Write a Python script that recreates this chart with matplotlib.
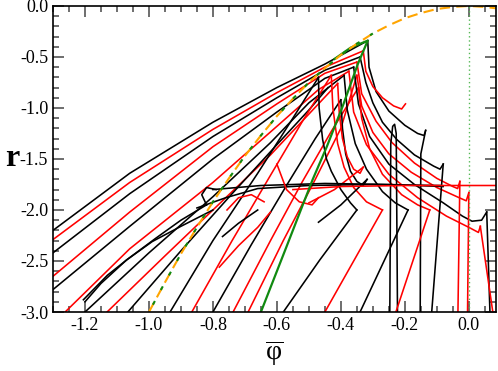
import matplotlib
matplotlib.use("Agg")
import matplotlib.pyplot as plt
from matplotlib.ticker import MultipleLocator

# ---------------------------------------------------------------- data
# envelope (orange dashed)
env_phi = [-1.00, -0.95, -0.90, -0.85, -0.80, -0.75, -0.70, -0.65, -0.60, -0.55, -0.50,
           -0.45, -0.40, -0.35, -0.30, -0.25, -0.20, -0.15, -0.10, -0.05, 0.00, 0.05, 0.09]
env_r = [-3.00, -2.71, -2.43, -2.17, -1.92, -1.69, -1.47, -1.27, -1.08, -0.91, -0.75,
         -0.61, -0.48, -0.37, -0.27, -0.19, -0.12, -0.07, -0.03, -0.01, 0.00, -0.01, -0.025]

# green solid branch
green_phi = [-0.42, -0.37, -0.316, -0.347, -0.394, -0.444, -0.488, -0.57, -0.65]
green_r = [-0.52, -0.41, -0.34, -0.57, -0.98, -1.38, -1.70, -2.36, -3.00]

# shallow fan from the left edge up to the apex
fan_black = [
    [(-1.30, -2.20), (-1.06, -1.64), (-0.80, -1.14), (-0.60, -0.80), (-0.45, -0.57), (-0.316, -0.34)],
    [(-1.30, -2.42), (-1.06, -1.84), (-0.80, -1.28), (-0.60, -0.90), (-0.45, -0.63), (-0.34, -0.50)],
    [(-1.30, -2.78), (-1.06, -2.16), (-0.80, -1.50), (-0.60, -1.04), (-0.45, -0.71), (-0.36, -0.60)],
    [(-1.20, -3.00), (-1.00, -2.42), (-0.80, -1.87), (-0.62, -1.34), (-0.50, -0.95), (-0.39, -0.68)],
]
fan_red = [
    [(-1.30, -2.29), (-1.06, -1.73), (-0.80, -1.21), (-0.60, -0.85), (-0.45, -0.60), (-0.33, -0.44)],
    [(-1.30, -2.65), (-1.06, -2.02), (-0.80, -1.38), (-0.60, -0.96), (-0.45, -0.66), (-0.35, -0.55)],
    [(-1.262, -3.00), (-1.06, -2.38), (-0.80, -1.73), (-0.60, -1.18), (-0.47, -0.82), (-0.375, -0.64)],
    [(-1.131, -3.00), (-0.95, -2.45), (-0.80, -2.00), (-0.62, -1.46), (-0.50, -1.06), (-0.41, -0.76)],
]

# steep rising lines from the bottom edge up to the tips
steep_black = [
    [(-1.066, -3.00), (-0.90, -2.40), (-0.74, -1.84), (-0.60, -1.36), (-0.50, -1.02), (-0.44, -0.80)],
    [(-0.934, -3.00), (-0.80, -2.30), (-0.66, -1.64), (-0.55, -1.10), (-0.47, -0.70)],
    [(-0.80, -3.00), (-0.68, -2.34), (-0.57, -1.76), (-0.48, -1.30), (-0.40, -0.92)],
]
steep_red = [
    [(-0.866, -3.00), (-0.74, -2.30), (-0.62, -1.66), (-0.52, -1.13), (-0.43, -0.68)],
    [(-0.737, -3.00), (-0.62, -2.30), (-0.52, -1.72), (-0.43, -1.23), (-0.345, -0.80)],
    [(-0.69, -3.00), (-0.58, -2.30), (-0.48, -1.70), (-0.40, -1.20), (-0.35, -0.68)],
]

# descending arcs, each ending in a cusp
arc_black = [
    [(-0.316, -0.34), (-0.312, -0.60), (-0.29, -0.84), (-0.25, -1.03), (-0.20, -1.17),
     (-0.16, -1.25), (-0.14, -1.27), (-0.135, -1.22)],
    [(-0.34, -0.50), (-0.322, -0.75), (-0.30, -0.95), (-0.27, -1.14), (-0.225, -1.31),
     (-0.17, -1.46), (-0.11, -1.57), (-0.09, -1.60), (-0.08, -1.55)],
    [(-0.36, -0.60), (-0.345, -0.96), (-0.31, -1.28), (-0.25, -1.55), (-0.17, -1.75),
     (-0.08, -1.93), (-0.02, -2.06), (0.01, -2.11), (0.04, -2.10), (0.056, -2.02)],
    [(-0.47, -0.70), (-0.468, -1.00), (-0.457, -1.31), (-0.445, -1.50), (-0.43, -1.62),
     (-0.40, -1.80), (-0.37, -1.93), (-0.35, -2.00)],
    [(-0.39, -0.68), (-0.38, -1.02), (-0.355, -1.35), (-0.32, -1.60), (-0.27, -1.82),
     (-0.23, -1.93), (-0.19, -2.00)],
    [(-0.40, -0.92), (-0.395, -1.20), (-0.385, -1.45), (-0.37, -1.62), (-0.35, -1.72),
     (-0.33, -1.76), (-0.318, -1.70)],
]
arc_red = [
    [(-0.33, -0.44), (-0.322, -0.64), (-0.30, -0.79), (-0.27, -0.90), (-0.235, -0.98),
     (-0.21, -1.01), (-0.198, -0.96)],
    [(-0.35, -0.55), (-0.335, -0.86), (-0.29, -1.13), (-0.24, -1.34), (-0.17, -1.54),
     (-0.10, -1.69), (-0.05, -1.77), (-0.035, -1.79), (-0.028, -1.72)],
    [(-0.35, -0.68), (-0.335, -0.98), (-0.30, -1.24), (-0.25, -1.45), (-0.18, -1.63),
     (-0.10, -1.78), (-0.03, -1.88), (-0.008, -1.91), (0.0, -1.83)],
    [(-0.375, -0.64), (-0.36, -1.04), (-0.32, -1.36), (-0.25, -1.65), (-0.16, -1.88),
     (-0.07, -2.06), (0.0, -2.17), (0.03, -2.22), (0.036, -2.16)],
    [(-0.43, -0.68), (-0.425, -1.00), (-0.41, -1.35), (-0.39, -1.58), (-0.36, -1.78),
     (-0.32, -1.92), (-0.27, -2.00)],
    [(-0.345, -0.80), (-0.335, -1.10), (-0.31, -1.40), (-0.27, -1.65), (-0.21, -1.85),
     (-0.16, -1.95), (-0.122, -2.00)],
    [(-0.41, -0.76), (-0.405, -1.05), (-0.395, -1.30), (-0.38, -1.48), (-0.36, -1.60),
     (-0.34, -1.64), (-0.33, -1.58)],
]

# lines leaving the cusps down to the bottom edge
drop_black = [
    [(-0.135, -1.22), (-0.15, -1.45), (-0.152, -3.00)],
    [(-0.08, -1.55), (-0.116, -3.00)],
    [(0.056, -2.02), (0.066, -3.00)],
    [(-0.35, -2.00), (-0.466, -2.49), (-0.58, -3.00)],
    [(-0.19, -2.00), (-0.34, -3.00)],
    [(-0.247, -3.00), (-0.244, -1.35), (-0.238, -1.18), (-0.232, -1.16), (-0.227, -1.25), (-0.223, -3.00)],
    [(-0.318, -1.70), (-0.40, -1.95), (-0.47, -2.12)],
]
drop_red = [
    [(-0.028, -1.72), (-0.034, -3.00)],
    [(0.0, -1.83), (-0.004, -3.00)],
    [(0.036, -2.16), (0.075, -3.00)],
    [(-0.27, -2.00), (-0.45, -3.00)],
    [(-0.122, -2.00), (-0.228, -3.00)],
    [(-0.33, -1.58), (-0.42, -1.80), (-0.50, -1.93)],
]

# near-horizontal branches around r = -1.75
flat_black = [
    [(-0.85, -1.98), (-0.76, -1.88), (-0.66, -1.79), (-0.50, -1.76), (-0.30, -1.75), (-0.09, -1.76)],
    [(-0.80, -1.80), (-0.65, -1.76), (-0.45, -1.74), (-0.25, -1.75), (-0.08, -1.77)],
]
flat_red = [(-0.55, -1.80), (-0.40, -1.77), (-0.20, -1.76), (0.09, -1.76)]

# small lens / hooks in the lower left
lens_black = [
    [(-1.205, -2.88), (-1.13, -2.64), (-1.07, -2.49), (-0.98, -2.28), (-0.90, -2.10), (-0.82, -1.95)],
    [(-1.20, -2.90), (-1.15, -2.72), (-1.07, -2.49), (-0.99, -2.31), (-0.90, -2.16), (-0.80, -2.00)],
    [(-0.77, -2.26), (-0.72, -2.13), (-0.66, -2.00)],
    [(-0.82, -1.95), (-0.835, -1.85), (-0.82, -1.78), (-0.79, -1.80)],
]
hook_red = [
    [(-0.78, -2.56), (-0.72, -2.35), (-0.66, -2.17), (-0.62, -2.02)],
    [(-0.756, -2.00), (-0.72, -1.88), (-0.68, -1.85), (-0.64, -1.92)],
    [(-0.60, -1.55), (-0.57, -1.80), (-0.53, -1.92), (-0.49, -1.95), (-0.47, -1.88)],
]

# ---------------------------------------------------------------- plot
plt.rcParams["font.family"] = ["Liberation Serif", "DejaVu Serif"]
plt.rcParams["mathtext.fontset"] = "custom"
plt.rcParams["mathtext.rm"] = "Liberation Serif"

fig = plt.figure(figsize=(4.98, 3.71), dpi=100)
ax = fig.add_axes([0.1064, 0.159, 0.8896, 0.825])

lw = 1.15


def draw(curves, color):
    for c in curves:
        ax.plot([p[0] for p in c], [p[1] for p in c], color=color, lw=lw,
                solid_joinstyle="round")


draw(fan_black, "black")
draw(fan_red, "red")
draw(steep_black, "black")
draw(steep_red, "red")
draw(arc_black, "black")
draw(arc_red, "red")
draw(drop_black, "black")
draw(drop_red, "red")
draw(flat_black, "black")
draw([flat_red], "red")
draw(lens_black, "black")
draw(hook_red, "red")

ax.plot(green_phi, green_r, color="#108a10", lw=1.6)
ax.plot(env_phi, env_r, color="orange", lw=1.5, ls=(0, (5, 3)))
ax.plot(env_phi[:15], env_r[:15], color="#108a10", lw=1.5, ls=(4, (2, 6)))
ax.axvline(0.0, color="#55b855", lw=1.0, ls=(0, (1, 2)))

ax.set_xlim(-1.3, 0.085)
ax.set_ylim(-3.0, 0.0)
ax.xaxis.set_minor_locator(MultipleLocator(0.05))
ax.yaxis.set_minor_locator(MultipleLocator(0.1))
ax.tick_params(which="both", direction="in", top=True, right=True, colors="#555555",
               labelcolor="black", width=1.2, labelsize=13)
ax.tick_params(which="major", length=8)
ax.tick_params(which="minor", length=4)
ax.set_xticks([-1.2, -1.0, -0.8, -0.6, -0.4, -0.2, 0.0])
ax.set_xticklabels(["-1.2", "-1.0", "-0.8", "-0.6", "-0.4", "-0.2", "0.0"])
ax.set_yticks([0.0, -0.5, -1.0, -1.5, -2.0, -2.5, -3.0])
ax.set_yticklabels(["0.0", "-0.5", "-1.0", "-1.5", "-2.0", "-2.5", "-3.0"])
for s in ax.spines.values():
    s.set_linewidth(1.2)

ax.set_ylabel("r", fontsize=23, fontweight="bold", rotation=0, va="center", ha="center")
ax.yaxis.set_label_coords(-0.092, 0.5)
ax.set_xlabel(r"$\overline{\mathrm{φ}}$", fontsize=20, labelpad=3)

fig.savefig("out.png", dpi=100)
